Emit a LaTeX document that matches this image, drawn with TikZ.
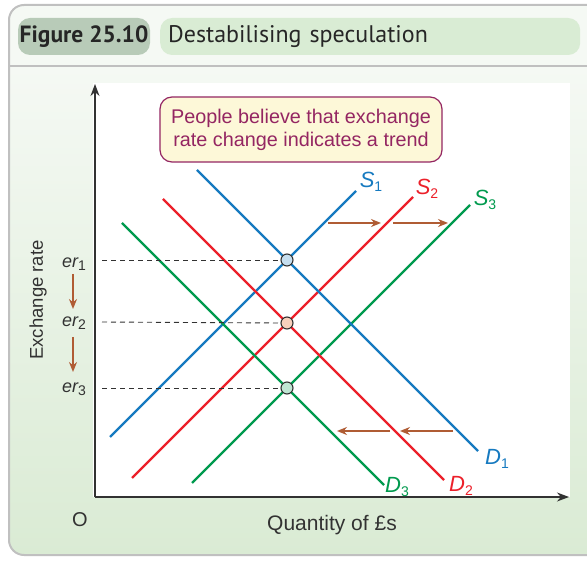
\documentclass[tikz,border=0pt]{standalone}
\usepackage{fontspec}
\setmainfont{Liberation Sans}
\newfontfamily\titlefont{PT Sans}
\usetikzlibrary{arrows.meta, positioning}

\definecolor{sblue}{RGB}{22,122,192}
\definecolor{sred}{RGB}{236,32,42}
\definecolor{sgreen}{RGB}{0,154,78}
\definecolor{arrowbrown}{RGB}{176,92,52}
\definecolor{notepurple}{RGB}{148,38,98}
\definecolor{notefill}{RGB}{253,248,216}
\definecolor{tagfill}{RGB}{184,203,184}
\definecolor{titlefill}{RGB}{217,236,212}
\definecolor{panelgreen}{RGB}{218,235,212}
\definecolor{panellight}{RGB}{245,249,244}
\definecolor{framegray}{RGB}{192,192,192}
\definecolor{inkgray}{RGB}{50,50,50}
\definecolor{dotred}{RGB}{248,208,188}

\newcommand{\sublab}[2]{{\itshape #1}\raisebox{-0.35ex}{\fontsize{14}{14}\selectfont #2}}

\tikzstyle{tagbox} = [rectangle, rounded corners=12pt, fill=tagfill,
minimum width=132pt, minimum height=37pt, inner sep=0pt,
font=\titlefont\bfseries\fontsize{23.5}{23.5}\selectfont, text=black!85]
\tikzstyle{titlebox} = [rectangle, rounded corners=12pt, fill=titlefill,
minimum width=420pt, minimum height=37pt, inner sep=0pt, text width=404pt,
font=\titlefont\fontsize{24}{24}\selectfont, text=black!85]
\tikzstyle{note} = [rectangle, rounded corners=12pt, draw=notepurple,
fill=notefill, line width=1.2pt, text=notepurple, align=center,
minimum width=282pt, minimum height=65pt, inner sep=2pt,
font=\fontsize{19.8}{23}\selectfont]
\tikzstyle{curve} = [line width=2.2pt]
\tikzstyle{eqdot} = [circle, draw=inkgray, line width=1.1pt,
minimum size=12pt, inner sep=0pt]
\tikzstyle{curvelabel} = [inner sep=0pt, font=\fontsize{22}{22}\selectfont]
\tikzstyle{erlabel} = [inner sep=0pt, text=inkgray, font=\fontsize{18}{18}\selectfont]
\tikzstyle{axislabel} = [inner sep=0pt, text=inkgray, font=\fontsize{20}{20}\selectfont]
\tikzstyle{guide} = [dashed, inkgray, line width=0.9pt, dash pattern=on 5pt off 4pt]
\tikzstyle{axis} = [inkgray, line width=1.4pt, -{Stealth[length=12pt,width=9pt]}]
\tikzstyle{arrow} = [arrowbrown, line width=1.5pt, -{Stealth[length=10pt,width=8pt]}]

\begin{document}
\begin{tikzpicture}[x=1pt, y=-1pt]
        \useasboundingbox (0,0) rectangle (587,561);

        % --- Marco y cabecera ---
        \fill[panellight, rounded corners=15pt] (9,5) rectangle (610,555);
        \begin{scope}
            \clip[rounded corners=15pt] (9,5) rectangle (610,555);
            \shade[top color=panellight, bottom color=panelgreen] (9,66) rectangle (610,555);
        \end{scope}
        \draw[framegray, line width=2pt, rounded corners=15pt] (9,5) rectangle (610,555);
        \draw[framegray, line width=2.5pt] (9,66) -- (610,66);

        \node (tag) [tagbox] at (84,36.5) {Figure 25.10};
        \node (title) [titlebox, anchor=west] at (160,36.5) {Destabilising speculation};

        % --- Zona del grafico ---
        \fill[white] (93,83) rectangle (570,497);

        \coordinate (O) at (95,497);
        \coordinate (ytop) at (95,84);
        \coordinate (xend) at (569,497);
        \draw[axis] (O) -- (ytop);
        \draw[axis] (O) -- (xend);

        \node (origin) [axislabel] at (80,520) {O};
        \node (xlab) [axislabel, font=\fontsize{21}{21}\selectfont] at (332,525) {Quantity of £s};
        \node (ylab) [axislabel, rotate=90, font=\fontsize{18.5}{18.5}\selectfont] at (38,300) {Exchange rate};

        \node (belief) [note] at (301,129.5) {People believe that exchange\\rate change indicates a trend};

        % --- Curvas de oferta y demanda ---
        \draw[curve, sblue] (110,437) -- (356,191);
        \draw[curve, sred] (132,478) -- (413,197);
        \draw[curve, sgreen] (192,483) -- (470,205);
        \draw[curve, sblue] (197,170) -- (478,451);
        \draw[curve, sred] (163,199) -- (444,480);
        \draw[curve, sgreen] (122,223) -- (384,485);

        \node (S1) [curvelabel, text=sblue] at (371,182) {\sublab{S}{1}};
        \node (S2) [curvelabel, text=sred] at (427,189) {\sublab{S}{2}};
        \node (S3) [curvelabel, text=sgreen] at (485,200) {\sublab{S}{3}};
        \node (D1) [curvelabel, text=sblue] at (497,459) {\sublab{D}{1}};
        \node (D2) [curvelabel, text=sred] at (461,486) {\sublab{D}{2}};
        \node (D3) [curvelabel, text=sgreen] at (397,487) {\sublab{D}{3}};

        % --- Puntos de equilibrio ---
        \node (e1) [eqdot, fill=sblue!25] at (287,260) {};
        \node (e2) [eqdot, fill=dotred] at (287,323) {};
        \node (e3) [eqdot, fill=sgreen!25] at (287,388) {};

        \node (er1) [erlabel] at (74,264) {\sublab{er}{1}};
        \node (er2) [erlabel] at (74,323) {\sublab{er}{2}};
        \node (er3) [erlabel] at (74,389) {\sublab{er}{3}};

        \draw[guide] (102,260) -- (e1.west);
        \draw[guide] (102,322) -- (e2.west);
        \draw[guide] (102,388) -- (e3.west);

        % --- Desplazamientos ---
        \draw[arrow] (73,274) -- (73,309);
        \draw[arrow] (73,337) -- (73,372);
        \draw[arrow] (328,223) -- (381,223);
        \draw[arrow] (393,223) -- (448,223);
        \draw[arrow] (453,431) -- (400,431);
        \draw[arrow] (390,431) -- (337,431);

    \end{tikzpicture}
\end{document}
